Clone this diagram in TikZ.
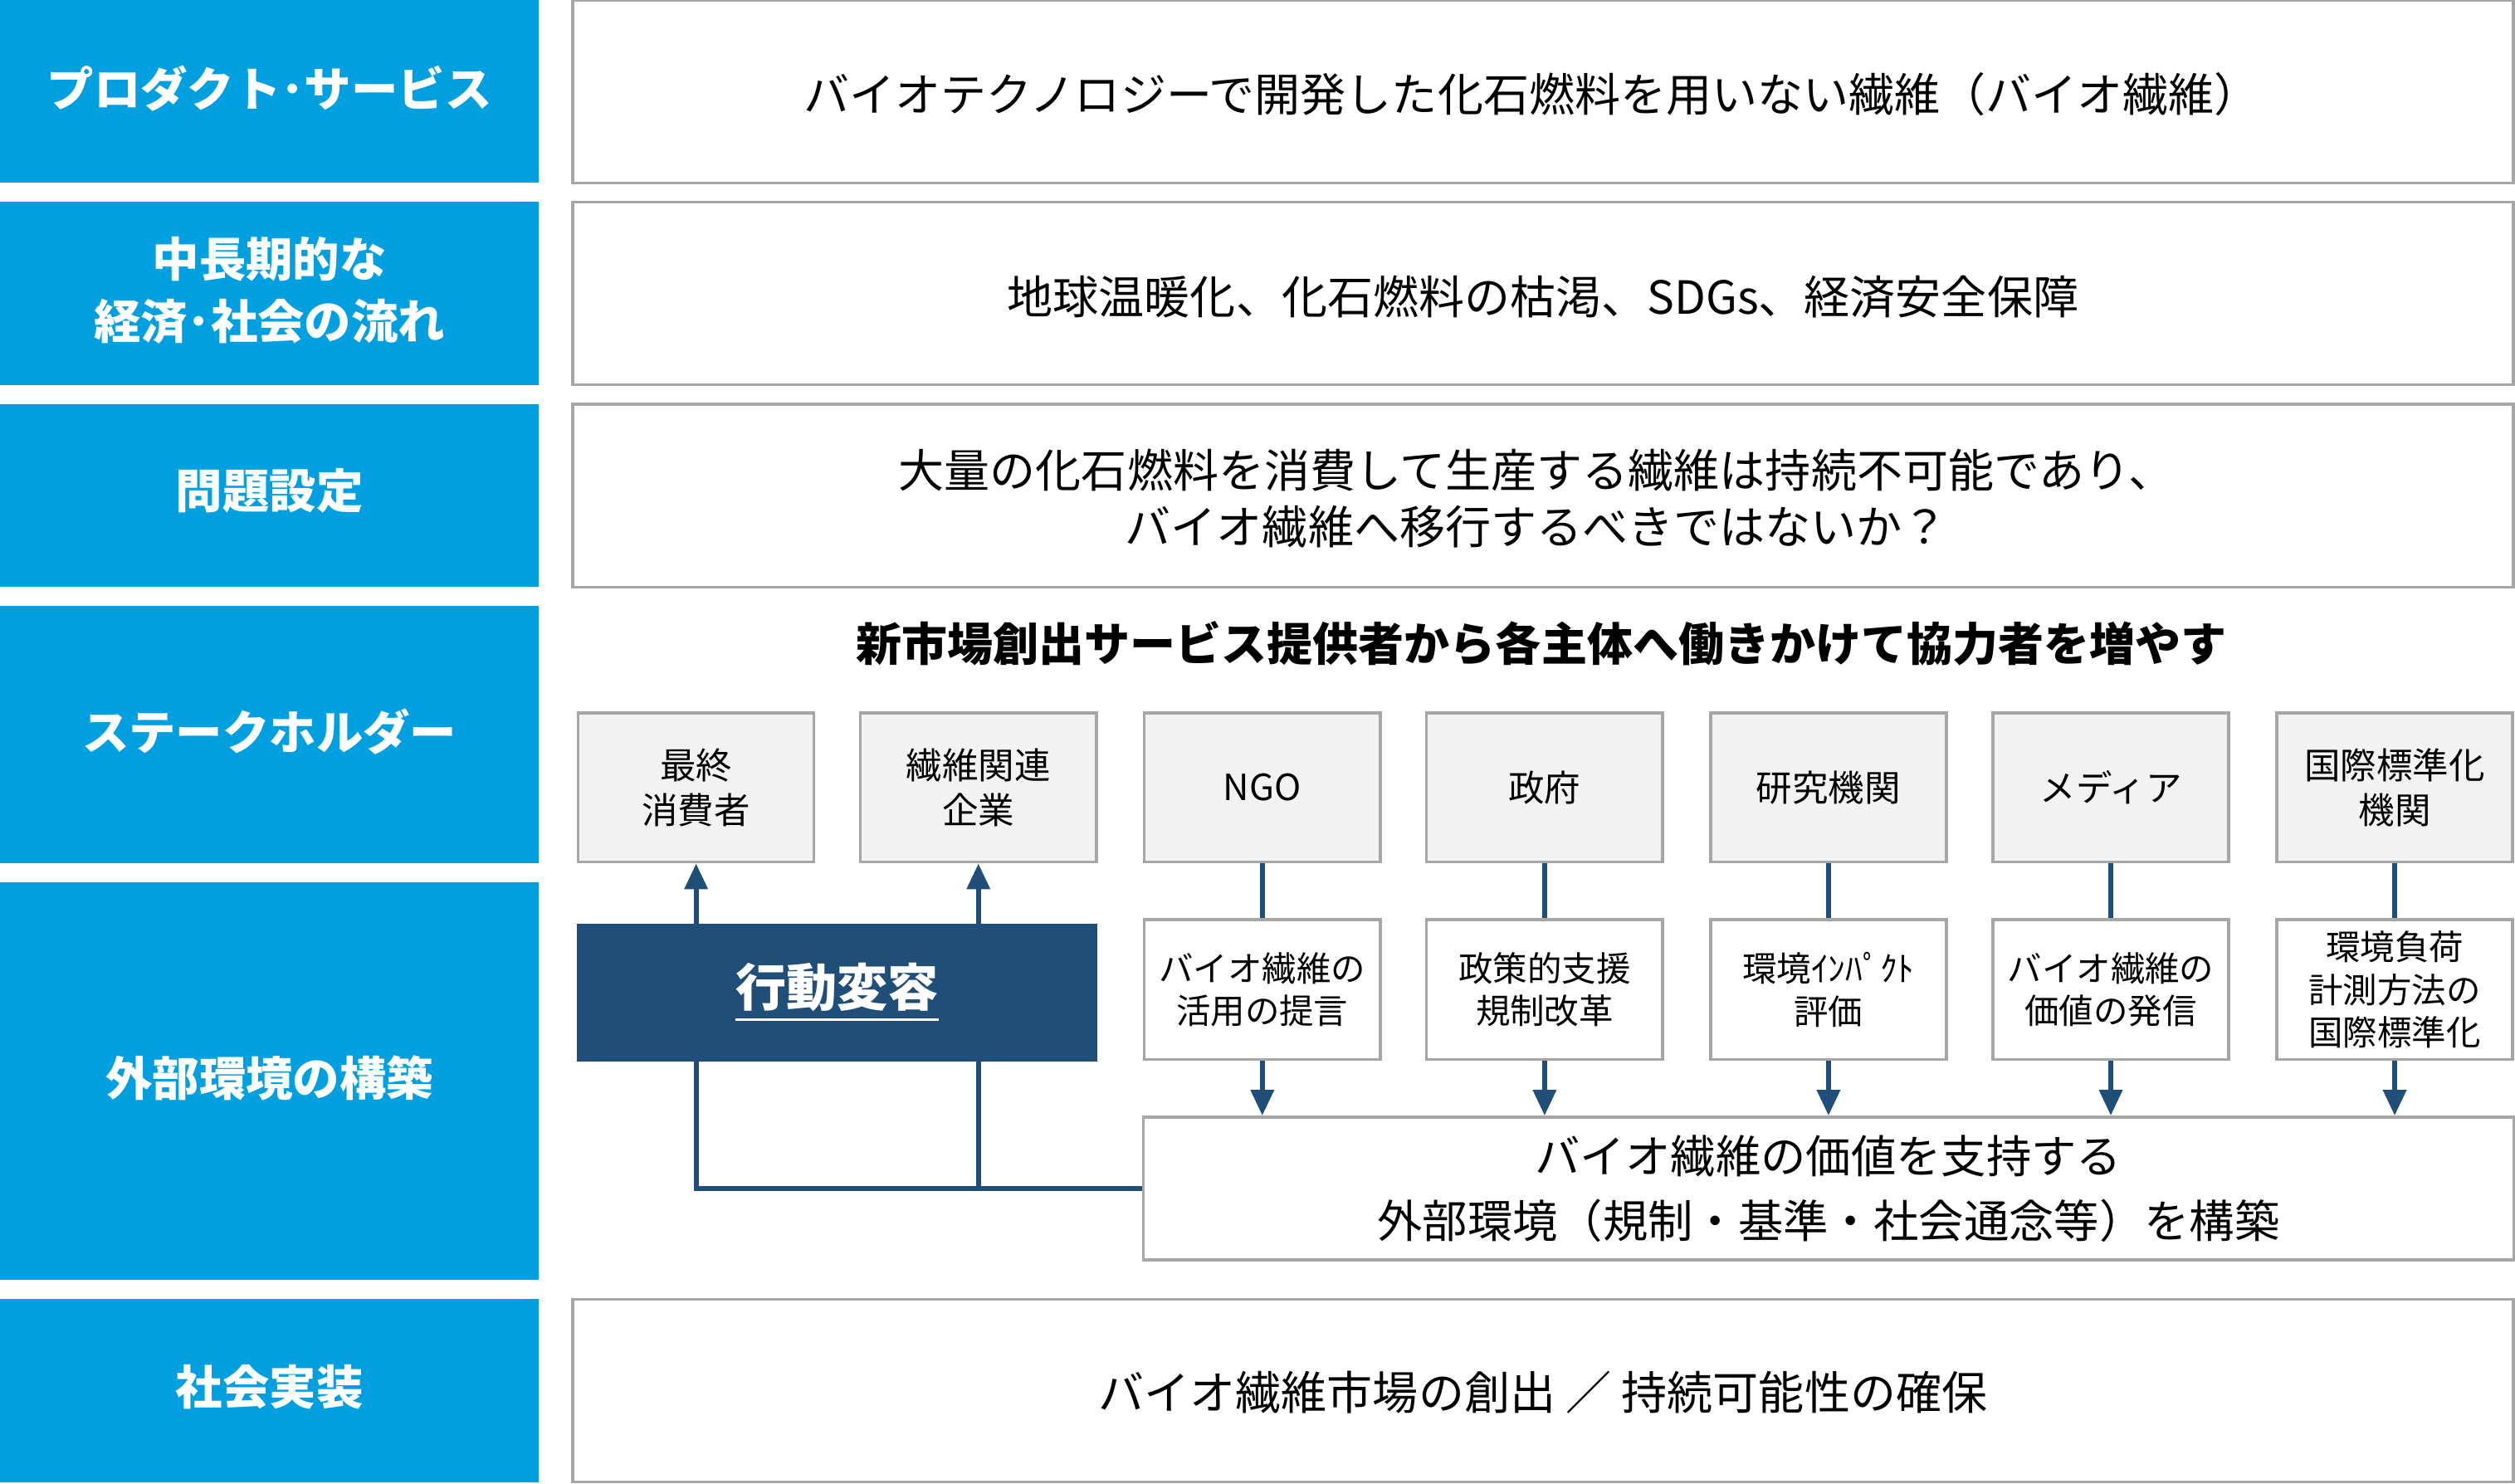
\documentclass[tikz,border=0pt]{standalone}
\usepackage{fontspec}
\setmainfont{Noto Sans CJK JP}
\usetikzlibrary{arrows.meta}
\definecolor{bandblue}{HTML}{00A0E0}
\definecolor{navy}{HTML}{1F4E79}
\definecolor{boxgray}{HTML}{F2F2F2}
\definecolor{edgegray}{HTML}{A6A6A6}
\begin{document}
\begin{tikzpicture}
[x=0.01cm, y=-0.01cm, >={Triangle[length=1.6mm,width=1.4mm]},
band/.style={fill=bandblue, text=white, font=\fontsize{8.3pt}{11pt}\selectfont\bfseries, align=center},
panel/.style={draw=edgegray, line width=0.5pt, fill=white, font=\fontsize{8.1pt}{10pt}\selectfont, align=center},
actor/.style={draw=edgegray, line width=0.5pt, fill=boxgray, font=\fontsize{6.4pt}{8pt}\selectfont, align=center, inner sep=0pt},
action/.style={draw=edgegray, line width=0.5pt, fill=white, font=\fontsize{6.1pt}{7.6pt}\selectfont, align=center, inner sep=0pt},
link/.style={draw=navy, line width=0.9pt}]

\useasboundingbox (0,0) rectangle (1568,925);

% left bands
\fill[bandblue] (0,0) rectangle (336,114);
\node[band] (b1) at (168,55) {プロダクト･サービス};
\fill[bandblue] (0,126) rectangle (336,240);
\node[band] (b2) at (168,181) {中長期的な\\経済･社会の流れ};
\fill[bandblue] (0,252) rectangle (336,366);
\node[band] (b3) at (168,306) {問題設定};
\fill[bandblue] (0,378) rectangle (336,538);
\node[band] (b4) at (168,456) {ステークホルダー};
\fill[bandblue] (0,550) rectangle (336,798);
\node[band] (b5) at (168,672) {外部環境の構築};
\fill[bandblue] (0,810) rectangle (336,924);
\node[band] (b6) at (168,865) {社会実装};

% right panels
\draw[panel] (357,0) rectangle (1567,114);
\node[panel, draw=none] (p1) at (955,59) {バイオテクノロジーで開発した化石燃料を用いない繊維（バイオ繊維）};
\draw[panel] (357,126) rectangle (1567,240);
\node[panel, draw=none] (p2) at (962,185) {地球温暖化、化石燃料の枯渇、SDGs、経済安全保障};
\draw[panel] (357,252) rectangle (1567,366);
\node[panel, draw=none] (p3) at (958,311) {大量の化石燃料を消費して生産する繊維は持続不可能であり、\\バイオ繊維へ移行するべきではないか？};
\draw[panel] (357,810) rectangle (1567,924);
\node[panel, draw=none] (p6) at (962,868) {バイオ繊維市場の創出 ／ 持続可能性の確保};

\node[font=\fontsize{8.1pt}{10pt}\selectfont\bfseries] (head) at (961,401) {新市場創出サービス提供者から各主体へ働きかけて協力者を増やす};

% stakeholders
\node[actor, minimum width=1.47cm, minimum height=0.93cm] (s1) at (434,491) {最終\\消費者};
\node[actor, minimum width=1.47cm, minimum height=0.93cm] (s2) at (610,491) {繊維関連\\企業};
\node[actor, minimum width=1.47cm, minimum height=0.93cm] (s3) at (787,491) {NGO};
\node[actor, minimum width=1.47cm, minimum height=0.93cm] (s4) at (963,491) {政府};
\node[actor, minimum width=1.47cm, minimum height=0.93cm] (s5) at (1140,491) {研究機関};
\node[actor, minimum width=1.47cm, minimum height=0.93cm] (s6) at (1316,491) {メディア};
\node[actor, minimum width=1.47cm, minimum height=0.93cm] (s7) at (1493,491) {国際標準化\\機関};

% actions
\node[action, minimum width=1.47cm, minimum height=0.87cm] (a3) at (787,617) {バイオ繊維の\\活用の提言};
\node[action, minimum width=1.47cm, minimum height=0.87cm] (a4) at (963,617) {政策的支援\\規制改革};
\node[action, minimum width=1.47cm, minimum height=0.87cm] (a5) at (1140,617) {環境ｲﾝﾊﾟｸﾄ\\評価};
\node[action, minimum width=1.47cm, minimum height=0.87cm] (a6) at (1316,617) {バイオ繊維の\\価値の発信};
\node[action, minimum width=1.47cm, minimum height=0.87cm] (a7) at (1493,617) {環境負荷\\計測方法の\\国際標準化};

\node[action, minimum width=8.54cm, minimum height=0.89cm, font=\fontsize{8pt}{11.5pt}\selectfont] (base) at (1140,741) {バイオ繊維の価値を支持する\\外部環境（規制・基準・社会通念等）を構築};

\foreach \i in {3,...,7} {
  \draw[link] (s\i.south) -- (a\i.north);
  \draw[link, ->] (a\i.south) -- (a\i.south |- base.north);
}
\coordinate (turn1) at (434,741);
\coordinate (turn2) at (610,741);
\draw[link, ->] (base.west) -- (turn1) -- (s1.south);
\draw[link, ->] (turn2) -- (s2.south);

\node[fill=navy, text=white, minimum width=3.24cm, minimum height=0.86cm, font=\fontsize{9pt}{11pt}\selectfont\bfseries] (shift) at (522,619) {\underline{行動変容}};
\end{tikzpicture}
\end{document}
